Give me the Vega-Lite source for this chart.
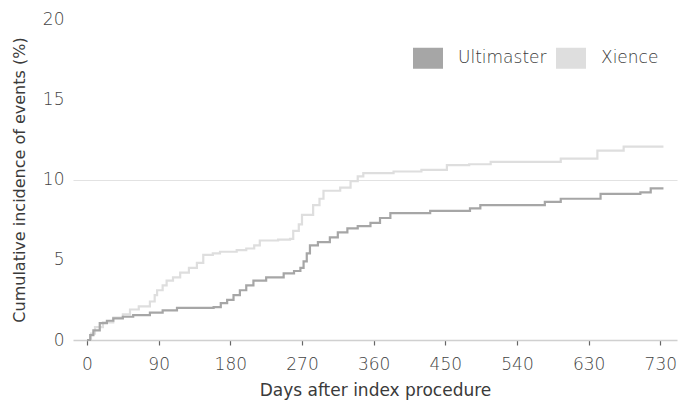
{
  "$schema": "https://vega.github.io/schema/vega-lite/v6.json",
  "width": 604,
  "height": 321,
  "autosize": "none",
  "padding": {"left": 73, "top": 19, "right": 2, "bottom": 61},
  "background": "white",
  "config": {
    "view": {"stroke": null},
    "font": "DejaVu Sans",
    "axis": {"labelFont": "DejaVu Sans", "titleFont": "DejaVu Sans"}
  },
  "data": {
    "values": [
      {"series": "Xience", "day": 0, "value": 0},
      {"series": "Xience", "day": 5, "value": 0.4},
      {"series": "Xience", "day": 10, "value": 0.8},
      {"series": "Xience", "day": 20, "value": 1.1},
      {"series": "Xience", "day": 33, "value": 1.4},
      {"series": "Xience", "day": 45, "value": 1.6},
      {"series": "Xience", "day": 54, "value": 1.9},
      {"series": "Xience", "day": 65, "value": 2.1},
      {"series": "Xience", "day": 79, "value": 2.4},
      {"series": "Xience", "day": 85, "value": 2.8},
      {"series": "Xience", "day": 88, "value": 3.1},
      {"series": "Xience", "day": 95, "value": 3.4},
      {"series": "Xience", "day": 100, "value": 3.7},
      {"series": "Xience", "day": 108, "value": 3.9},
      {"series": "Xience", "day": 117, "value": 4.2},
      {"series": "Xience", "day": 128, "value": 4.5},
      {"series": "Xience", "day": 138, "value": 4.8},
      {"series": "Xience", "day": 146, "value": 5.3},
      {"series": "Xience", "day": 158, "value": 5.4},
      {"series": "Xience", "day": 167, "value": 5.5},
      {"series": "Xience", "day": 188, "value": 5.6},
      {"series": "Xience", "day": 200, "value": 5.7},
      {"series": "Xience", "day": 210, "value": 5.9},
      {"series": "Xience", "day": 217, "value": 6.2},
      {"series": "Xience", "day": 240, "value": 6.25},
      {"series": "Xience", "day": 255, "value": 6.3},
      {"series": "Xience", "day": 259, "value": 6.8},
      {"series": "Xience", "day": 266, "value": 7.2},
      {"series": "Xience", "day": 270, "value": 7.8},
      {"series": "Xience", "day": 284, "value": 8.4},
      {"series": "Xience", "day": 292, "value": 8.8},
      {"series": "Xience", "day": 297, "value": 9.3},
      {"series": "Xience", "day": 318, "value": 9.5},
      {"series": "Xience", "day": 331, "value": 9.9},
      {"series": "Xience", "day": 340, "value": 10.2},
      {"series": "Xience", "day": 347, "value": 10.4},
      {"series": "Xience", "day": 385, "value": 10.5},
      {"series": "Xience", "day": 420, "value": 10.6},
      {"series": "Xience", "day": 452, "value": 10.9},
      {"series": "Xience", "day": 480, "value": 10.95},
      {"series": "Xience", "day": 507, "value": 11.1},
      {"series": "Xience", "day": 560, "value": 11.1},
      {"series": "Xience", "day": 595, "value": 11.3},
      {"series": "Xience", "day": 641, "value": 11.8},
      {"series": "Xience", "day": 674, "value": 12.05},
      {"series": "Xience", "day": 724, "value": 12.05},
      {"series": "Ultimaster", "day": 0, "value": 0},
      {"series": "Ultimaster", "day": 4, "value": 0.3},
      {"series": "Ultimaster", "day": 8, "value": 0.6},
      {"series": "Ultimaster", "day": 16, "value": 1.05},
      {"series": "Ultimaster", "day": 25, "value": 1.2},
      {"series": "Ultimaster", "day": 33, "value": 1.35},
      {"series": "Ultimaster", "day": 45, "value": 1.45},
      {"series": "Ultimaster", "day": 58, "value": 1.55},
      {"series": "Ultimaster", "day": 79, "value": 1.7},
      {"series": "Ultimaster", "day": 95, "value": 1.85},
      {"series": "Ultimaster", "day": 113, "value": 2.0},
      {"series": "Ultimaster", "day": 159, "value": 2.05},
      {"series": "Ultimaster", "day": 168, "value": 2.3},
      {"series": "Ultimaster", "day": 176, "value": 2.5},
      {"series": "Ultimaster", "day": 184, "value": 2.8},
      {"series": "Ultimaster", "day": 192, "value": 3.1},
      {"series": "Ultimaster", "day": 200, "value": 3.4},
      {"series": "Ultimaster", "day": 209, "value": 3.7},
      {"series": "Ultimaster", "day": 225, "value": 3.9},
      {"series": "Ultimaster", "day": 247, "value": 4.15},
      {"series": "Ultimaster", "day": 260, "value": 4.3},
      {"series": "Ultimaster", "day": 268, "value": 4.5},
      {"series": "Ultimaster", "day": 272, "value": 4.9},
      {"series": "Ultimaster", "day": 276, "value": 5.4},
      {"series": "Ultimaster", "day": 280, "value": 5.9},
      {"series": "Ultimaster", "day": 290, "value": 6.1},
      {"series": "Ultimaster", "day": 305, "value": 6.4},
      {"series": "Ultimaster", "day": 315, "value": 6.7},
      {"series": "Ultimaster", "day": 327, "value": 6.95},
      {"series": "Ultimaster", "day": 340, "value": 7.1},
      {"series": "Ultimaster", "day": 356, "value": 7.3},
      {"series": "Ultimaster", "day": 368, "value": 7.6},
      {"series": "Ultimaster", "day": 381, "value": 7.9},
      {"series": "Ultimaster", "day": 431, "value": 8.05},
      {"series": "Ultimaster", "day": 481, "value": 8.2},
      {"series": "Ultimaster", "day": 494, "value": 8.4},
      {"series": "Ultimaster", "day": 557, "value": 8.4},
      {"series": "Ultimaster", "day": 575, "value": 8.6},
      {"series": "Ultimaster", "day": 595, "value": 8.8},
      {"series": "Ultimaster", "day": 645, "value": 9.1},
      {"series": "Ultimaster", "day": 695, "value": 9.2},
      {"series": "Ultimaster", "day": 708, "value": 9.45},
      {"series": "Ultimaster", "day": 724, "value": 9.45}
    ]
  },
  "mark": {"type": "line", "interpolate": "step-after", "strokeWidth": 2.2},
  "encoding": {
    "x": {
      "field": "day",
      "type": "quantitative",
      "scale": {"domain": [-17.6, 741], "nice": false, "zero": false},
      "axis": {
        "title": "Days after index procedure",
        "values": [0, 90, 180, 270, 360, 450, 540, 630, 720],
        "labelExpr": "datum.value == 720 ? '730' : datum.label",
        "grid": false,
        "domainColor": "#d0d0d0",
        "domainWidth": 1.5,
        "tickColor": "#666666",
        "tickSize": 5,
        "tickWidth": 1.2,
        "labelFontSize": 17,
        "labelColor": "#444444",
        "labelFontWeight": 300,
        "labelPadding": 11,
        "titleFontSize": 17,
        "titleColor": "#3a3a3a",
        "titleFontWeight": 500,
        "titlePadding": 10
      }
    },
    "y": {
      "field": "value",
      "type": "quantitative",
      "scale": {"domain": [0, 20], "nice": false},
      "axis": {
        "title": "Cumulative incidence of events (%)",
        "values": [0, 5, 10, 15, 20],
        "domain": false,
        "ticks": false,
        "grid": true,
        "gridColor": "#e2e2e2",
        "gridWidth": 1.2,
        "gridOpacity": {"condition": {"test": "datum.value === 10", "value": 1}, "value": 0},
        "labelFontSize": 17,
        "labelColor": "#444444",
        "labelFontWeight": 300,
        "labelPadding": 9,
        "titleFontSize": 16,
        "titleColor": "#3a3a3a",
        "titleFontWeight": 400,
        "titlePadding": 15
      }
    },
    "color": {
      "field": "series",
      "type": "nominal",
      "scale": {"domain": ["Ultimaster", "Xience"], "range": ["#a6a6a6", "#dedede"]},
      "legend": {
        "title": null,
        "orient": "none",
        "legendX": 340,
        "legendY": 24,
        "direction": "horizontal",
        "padding": 0,
        "symbolType": "M-1,-0.7H1V0.7H-1Z",
        "symbolSize": 900,
        "symbolStrokeWidth": 0,
        "labelFontSize": 17,
        "labelColor": "#3a3a3a",
        "labelFontWeight": 300,
        "labelOffset": 15,
        "columnPadding": 9,
        "encode": {
          "symbols": {"update": {"fill": {"scale": "color", "field": "value"}, "strokeWidth": {"value": 0}}}
        }
      }
    }
  }
}
